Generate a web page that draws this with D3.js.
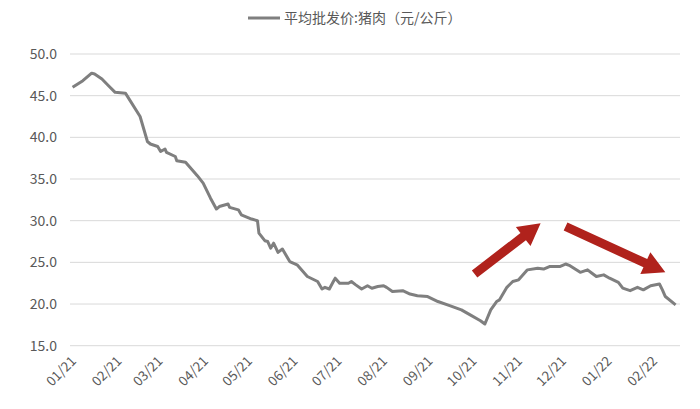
<!DOCTYPE html>
<html><head><meta charset="utf-8">
<script src="https://cdn.jsdelivr.net/npm/d3@7"></script>
<style>body{margin:0;background:#fff;font-family:"Noto Sans CJK SC","Liberation Sans",sans-serif;}</style>
</head><body><svg id="c" width="700" height="409"></svg>
<script>
// days since 2021-01-01 and price (yuan/kg)
var days = [-3,4,10,12,17,22,26,33,43,48,50,55,57,60,61,67,68,74,82,86,91,95,97,103,104,110,112,119,123,124,128,130,132,134,137,140,145,150,157,164,167,169,172,175,176,179,185,187,190,194,198,201,205,209,211,215,222,227,232,239,246,254,262,268,275,278,282,286,288,293,297,301,307,314,318,322,329,333,336,343,348,351,354,359,363,369,372,377,382,386,391,397,399,401,408];
var price = [46.0,46.8,47.7,47.6,47.0,46.1,45.4,45.3,42.5,39.5,39.2,38.9,38.3,38.6,38.2,37.7,37.2,37.0,35.4,34.5,32.7,31.4,31.7,32.0,31.6,31.3,30.7,30.2,30.0,28.5,27.6,27.5,26.7,27.3,26.2,26.6,25.1,24.7,23.3,22.7,21.8,22.0,21.8,22.8,23.1,22.5,22.5,22.7,22.3,21.8,22.2,21.9,22.1,22.2,22.0,21.5,21.6,21.2,21.0,20.9,20.3,19.8,19.3,18.7,18.0,17.6,19.3,20.3,20.5,22.0,22.7,22.9,24.1,24.3,24.2,24.5,24.5,24.8,24.6,23.8,24.1,23.7,23.3,23.5,23.1,22.6,21.9,21.6,22.0,21.7,22.2,22.4,21.7,20.9,19.9];
var yTicks = [15,20,25,30,35,40,45,50];
var monthLabels = ["01/21","02/21","03/21","04/21","05/21","06/21","07/21","08/21","09/21","10/21","11/21","12/21","01/22","02/22"];
// annotation arrows: [day, value] tail -> tip
var arrows = [[[271,23.6],[316,29.7]],[[333,29.3],[401,23.8]]];
var seriesName = "平均批发价:猪肉（元/公斤）";

var svg = d3.select("#c");
var t0 = new Date(2021,0,1);
var day = function(d){ return new Date(2021,0,1+d); };
var x = d3.scaleTime().domain([t0, new Date(2022,1,1)]).range([77,658]);
var y = d3.scaleLinear().domain([15,50]).range([345.7,54]);

// gridlines
svg.append("g").selectAll("line").data(yTicks).join("line")
  .attr("x1",70).attr("x2",680).attr("y1",d=>y(d)).attr("y2",d=>y(d))
  .attr("stroke","#d9d9d9").attr("stroke-width",1);

svg.append("g").selectAll("text").data(yTicks).join("text")
  .attr("x",57).attr("y",d=>y(d)+5).attr("text-anchor","end")
  .attr("font-size",14).attr("fill","#595959").text(d=>d.toFixed(1));

svg.append("g").selectAll("text").data(monthLabels).join("text")
  .attr("transform",(d,i)=>"translate("+x(new Date(2021,i,1))+",362) rotate(-45)")
  .attr("text-anchor","end").attr("font-size",13.5).attr("fill","#595959").text(d=>d);

var line = d3.line().x((d,i)=>x(day(days[i]))).y(d=>y(d));
svg.append("path").attr("d",line(price)).attr("fill","none")
  .attr("stroke","#7f7f7f").attr("stroke-width",3).attr("stroke-linejoin","round");

// block arrows
arrows.forEach(function(a){
  var x1=x(day(a[0][0])), y1=y(a[0][1]), x2=x(day(a[1][0])), y2=y(a[1][1]);
  var dx=x2-x1, dy=y2-y1, L=Math.hypot(dx,dy), ux=dx/L, uy=dy/L, px=-uy, py=ux;
  var hw=4.5, hh=12, hl=22, bx=x2-ux*hl, by=y2-uy*hl;
  var pts=[[x1+px*hw,y1+py*hw],[bx+px*hw,by+py*hw],[bx+px*hh,by+py*hh],[x2,y2],
           [bx-px*hh,by-py*hh],[bx-px*hw,by-py*hw],[x1-px*hw,y1-py*hw]];
  svg.append("polygon").attr("points",pts.map(p=>p.join(",")).join(" ")).attr("fill","#b0221c");
});

// legend
svg.append("line").attr("x1",248).attr("x2",280).attr("y1",18).attr("y2",18)
  .attr("stroke","#7f7f7f").attr("stroke-width",3);
svg.append("text").attr("x",284).attr("y",23).attr("font-size",14).attr("fill","#595959").text(seriesName);
</script></body></html>
